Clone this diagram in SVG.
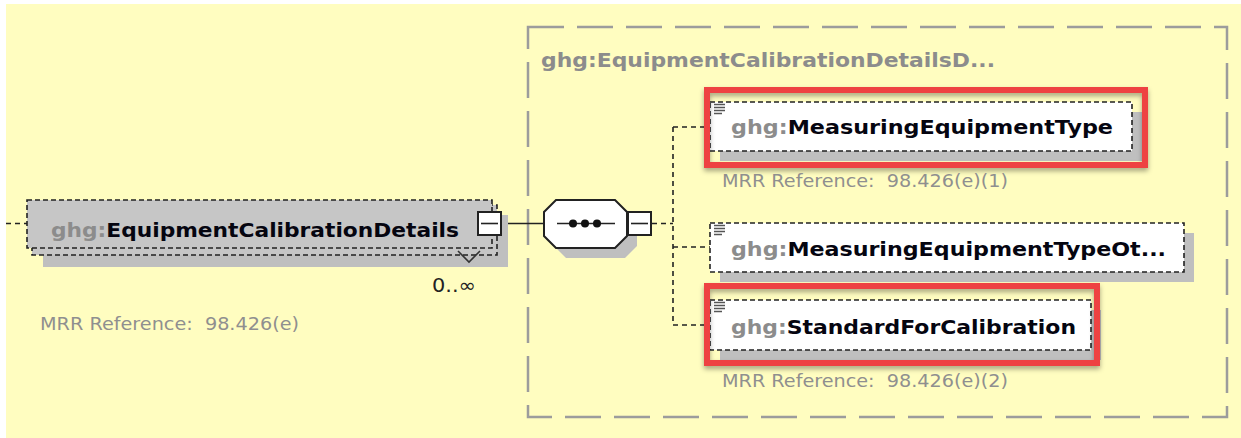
<svg xmlns="http://www.w3.org/2000/svg" width="1241" height="438" viewBox="0 0 1241 438">
<defs>
<style>
.lbl{font-family:"DejaVu Sans","Liberation Sans",sans-serif;font-weight:bold;font-size:19px;}
.ns{fill:#8c8c8c;}
.nm{fill:#050510;}
.mrr{font-family:"DejaVu Sans","Liberation Sans",sans-serif;font-size:18px;fill:#8f8f8f;white-space:pre;}
.nodebox{stroke:#222;stroke-width:1.6;stroke-dasharray:5 3;}
.shadow{fill:#bfbfbf;}
.conn{stroke:#222;stroke-width:1.6;fill:none;}
.dash{stroke-dasharray:5 4;}
.red{fill:none;stroke:#ee4343;stroke-width:6;}
</style>
<filter id="rs" x="-5%" y="-10%" width="110%" height="130%">
<feDropShadow dx="0" dy="3" stdDeviation="2.5" flood-color="#000" flood-opacity="0.35"/>
</filter>
<g id="icon">
<path d="M0 0.5h11M0 3.5h11M0 6.5h11M0 9.5h8" stroke="#555" stroke-width="1.4" fill="none"/>
</g>
</defs>
<rect x="0" y="0" width="1241" height="438" fill="#ffffff"/>
<rect x="6" y="4" width="1235" height="434" fill="#fffdc0"/>

<g id="group-box">
<rect x="528" y="27" width="699" height="390" fill="none" stroke="#9c9c9c" stroke-width="2.5" stroke-dasharray="36 13"/>
<text class="lbl ns" x="541" y="67" textLength="454" lengthAdjust="spacingAndGlyphs">ghg:EquipmentCalibrationDetailsD...</text>
</g>

<g id="connectors">
<path class="conn dash" d="M6 223.5H27"/>
<path class="conn" d="M502 223.5H544"/>
<path class="conn dash" d="M652 223.5H673M673 127V325M673 127H710M673 247H710M673 325H710"/>
</g>

<g id="node-ecd">
<rect class="shadow" x="43" y="215" width="465" height="52"/>
<rect class="nodebox" x="32" y="205" width="465" height="50" fill="#c6c6c6"/>
<rect class="nodebox" x="27" y="200" width="465" height="48" fill="#c6c6c6"/>
<text class="lbl" x="51" y="237" textLength="408" lengthAdjust="spacingAndGlyphs"><tspan class="ns">ghg:</tspan><tspan class="nm">EquipmentCalibrationDetails</tspan></text>
<rect x="478" y="212" width="23" height="23" fill="#fff" stroke="#222" stroke-width="2"/>
<path d="M481 223.5H498" stroke="#222" stroke-width="1.6"/>
<polyline points="458,251 469,262 480,251" fill="none" stroke="#333" stroke-width="1.6"/>
<text x="432" y="292" font-family="DejaVu Sans, Liberation Sans, sans-serif" font-size="19" fill="#222" textLength="44" lengthAdjust="spacingAndGlyphs">0..∞</text>
<text class="mrr" x="40" y="330" textLength="259" lengthAdjust="spacingAndGlyphs" xml:space="preserve">MRR Reference:  98.426(e)</text>
</g>

<g id="node-sequence">
<polygon class="shadow" points="566,210 625,210 637,222 637,246 625,258 566,258 554,246 554,222"/>
<polygon points="556,200 615,200 627,212 627,236 615,248 556,248 544,236 544,212" fill="#fff" stroke="#222" stroke-width="2"/>
<path d="M557 223.5H615" stroke="#222" stroke-width="1.6"/>
<circle cx="573" cy="223.5" r="4" fill="#111"/>
<circle cx="585" cy="223.5" r="4" fill="#111"/>
<circle cx="597" cy="223.5" r="4" fill="#111"/>
<rect x="628" y="212" width="23" height="23" fill="#fff" stroke="#222" stroke-width="2"/>
<path d="M631 223.5H648" stroke="#222" stroke-width="1.6"/>
</g>

<g id="node-measuring-equipment-type">
<rect class="shadow" x="720" y="112" width="422" height="49"/>
<rect class="nodebox" x="710" y="102" width="422" height="49" fill="#fff"/>
<use href="#icon" x="714" y="104"/>
<text class="lbl" x="731" y="134" textLength="382" lengthAdjust="spacingAndGlyphs"><tspan class="ns">ghg:</tspan><tspan class="nm">MeasuringEquipmentType</tspan></text>
<rect class="red" x="707" y="90" width="438" height="75" filter="url(#rs)"/>
<text class="mrr" x="722" y="187" textLength="286" lengthAdjust="spacingAndGlyphs" xml:space="preserve">MRR Reference:  98.426(e)(1)</text>
</g>

<g id="node-measuring-equipment-type-other">
<rect class="shadow" x="720" y="233" width="474" height="49"/>
<rect class="nodebox" x="710" y="223" width="474" height="49" fill="#fff"/>
<use href="#icon" x="714" y="225"/>
<text class="lbl" x="731" y="256" textLength="435" lengthAdjust="spacingAndGlyphs"><tspan class="ns">ghg:</tspan><tspan class="nm">MeasuringEquipmentTypeOt...</tspan></text>
</g>

<g id="node-standard-for-calibration">
<rect class="shadow" x="720" y="310" width="381" height="50"/>
<rect class="nodebox" x="710" y="300" width="381" height="50" fill="#fff"/>
<use href="#icon" x="714" y="302"/>
<text class="lbl" x="731" y="334" textLength="345" lengthAdjust="spacingAndGlyphs"><tspan class="ns">ghg:</tspan><tspan class="nm">StandardForCalibration</tspan></text>
<rect class="red" x="707" y="286" width="390" height="77" filter="url(#rs)"/>
<text class="mrr" x="722" y="387" textLength="286" lengthAdjust="spacingAndGlyphs" xml:space="preserve">MRR Reference:  98.426(e)(2)</text>
</g>
</svg>
